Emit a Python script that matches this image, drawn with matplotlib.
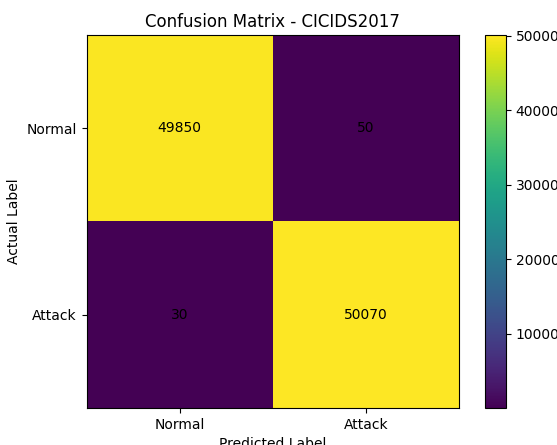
import numpy as np
import matplotlib
matplotlib.use("Agg")
import matplotlib.pyplot as plt

# confusion matrix values
labels = ["Normal", "Attack"]
row_normal = [49850, 50]
row_attack = [30, 50070]
cm = np.array([row_normal, row_attack])

fig = plt.figure(figsize=(5.57, 4.45), dpi=100)
ax = fig.add_axes([86.5 / 557, 1 - 408 / 445, 372.5 / 557, 373 / 445])
cax = fig.add_axes([485 / 557, 1 - 408 / 445, 21 / 557, 373 / 445])

im = ax.imshow(cm, cmap="viridis", aspect="auto")
fig.colorbar(im, cax=cax)

ax.set_xticks(range(len(labels)))
ax.set_xticklabels(labels)
ax.set_yticks(range(len(labels)))
ax.set_yticklabels(labels)

for i in range(cm.shape[0]):
    for j in range(cm.shape[1]):
        ax.text(j, i, str(cm[i, j]), ha="center", va="center", color="black")

ax.set_title("Confusion Matrix - CICIDS2017")
ax.set_xlabel("Predicted Label")
ax.set_ylabel("Actual Label")

fig.savefig("out.png", dpi=100)
